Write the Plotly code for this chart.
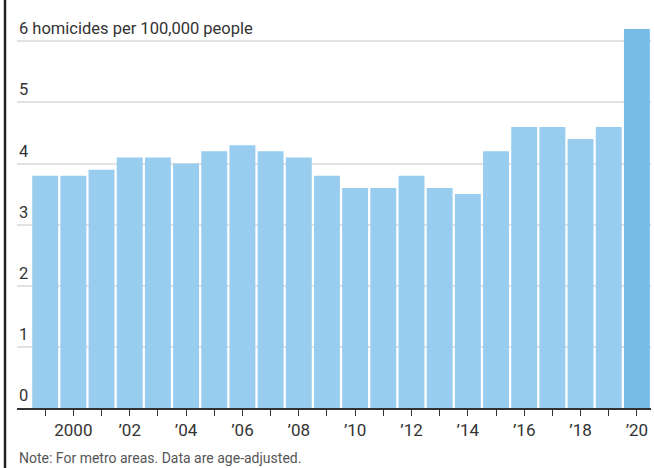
import plotly.graph_objects as go

years = list(range(1999, 2021))
rates = [3.8, 3.8, 3.9, 4.1, 4.1, 4.0, 4.2, 4.3, 4.2, 4.1, 3.8, 3.6, 3.6, 3.8, 3.6, 3.5, 4.2, 4.6, 4.6, 4.4, 4.6, 6.2]
y_ticks = [0, 1, 2, 3, 4, 5, 6]
y_labels = ["0", "1", "2", "3", "4", "5", "6 homicides per 100,000 people"]
x_labels = ["" if y % 2 else ("2000" if y == 2000 else "\u2019" + str(y)[2:]) for y in years]
note = "Note: For metro areas. Data are age-adjusted."

colors = ["#99cdef"] * (len(years) - 1) + ["#76bce8"]

W, H = 654, 468
ml, mr, mt, mb = 17, 3, 23, 60
font = "Roboto, Liberation Sans, sans-serif"

fig = go.Figure(go.Bar(x=years, y=rates, marker=dict(color=colors, line=dict(width=0)), width=0.92))

annotations = []
for v, lab in zip(y_ticks, y_labels):
    annotations.append(dict(x=0, xref="paper", y=v, yref="y", text=lab, showarrow=False,
                            xanchor="left", yanchor="bottom", yshift=1,
                            font=dict(family=font, size=16.5, color="#333333")))
annotations.append(dict(x=0, xref="paper", y=-(458 - (H - mb)) / (H - mt - mb), yref="paper",
                        text=note, showarrow=False, xanchor="left", yanchor="middle",
                        font=dict(family=font, size=14, color="#555555")))

fig.update_layout(
    width=W, height=H,
    margin=dict(l=ml, r=mr, t=mt, b=mb),
    paper_bgcolor="white", plot_bgcolor="white",
    showlegend=False,
    annotations=annotations,
    shapes=[dict(type="line", xref="paper", yref="paper",
                 x0=-12 / (W - ml - mr), x1=-12 / (W - ml - mr),
                 y0=-mb / (H - mt - mb) - 0.02, y1=1 + mt / (H - mt - mb) + 0.02,
                 line=dict(color="#222222", width=2.5))],
    xaxis=dict(range=[1998, 2020.5], tickmode="array", tickvals=years, ticktext=x_labels,
               ticks="outside", ticklen=6, tickwidth=1.2, tickcolor="#333333",
               showline=True, linecolor="#333333", linewidth=1.5,
               showgrid=False, zeroline=False,
               tickfont=dict(family=font, size=17, color="#333333")),
    yaxis=dict(range=[0, 6.3], tickvals=y_ticks, showticklabels=False,
               showgrid=True, gridcolor="#e2e2e2", gridwidth=1.5, zeroline=False),
)

fig.write_html("out.html")
